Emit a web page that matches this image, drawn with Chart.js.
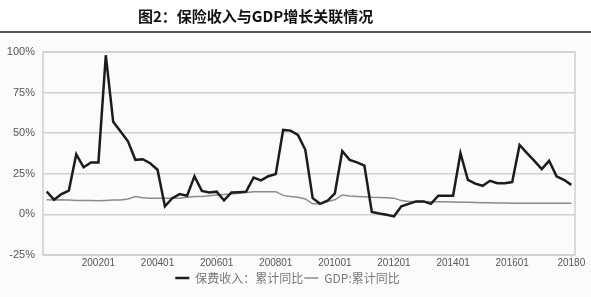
<!DOCTYPE html>
<html>
<head>
<meta charset="utf-8">
<script src="https://cdn.jsdelivr.net/npm/chart.js@4"></script>
<style>
html,body{margin:0;padding:0;background:#fff;}
canvas{display:block;}
</style>
</head>
<body>
<canvas id="c" width="591" height="297"></canvas>
<script>
// categories: quarters 2000Q2 .. 2018Q1
const startYear = 2000, startQuarter = 2, quarterCount = 72;
const categories = [];
for (let k = 0; k < quarterCount; k++) {
  const q = startQuarter - 1 + k;
  categories.push(String(startYear + Math.floor(q / 4)) + '0' + String(q % 4 + 1));
}
// 保费收入：累计同比 (%)
const premiumYoY = [14.1, 9.0, 12.5, 14.7, 37, 29, 32, 32, 98, 57,
  51, 45, 33.6, 34, 31.5, 27.5, 5, 10, 12.5, 11.5,
  23.4, 14.5, 13.5, 14, 8.6, 13.5, 13.7, 14, 22.7, 21,
  23.5, 24.8, 52, 51.6, 49, 39.8, 10, 6.5, 8.4, 13,
  39, 33.6, 32, 30, 1.5, 0.5, -0.2, -1.2, 5, 6.5,
  8, 8, 6.5, 11.5, 11.5, 11.5, 37.7, 21.3, 18.9, 17.6,
  20.7, 19.2, 19.2, 19.9, 42.8, 37.7, 33, 27.9, 33, 23.4,
  21.3, 18.2];
// GDP:累计同比 (%)
const gdpYoY = [9.0, 8.9, 9.0, 8.8, 8.6, 8.6, 8.5, 8.4, 8.6, 8.8,
  8.9, 9.5, 11, 10.2, 10, 10, 10, 10, 10, 10.5,
  11, 11, 11.5, 12, 12.3, 12.6, 13, 13.5, 14, 14,
  14, 14, 11.7, 11, 10.5, 9.5, 6.5, 6.5, 8, 9,
  12, 11.3, 11, 10.8, 10.5, 10.4, 10.2, 10, 8.5, 8,
  8, 8, 7.8, 7.8, 7.8, 7.7, 7.5, 7.5, 7.4, 7.2,
  7.1, 7, 7, 6.9, 6.8, 6.8, 6.8, 6.8, 6.9, 6.9,
  6.9, 6.9];
// x tick labels as shown
const tickCategories = ['200201','200401','200601','200801','201001','201201','201401','201601','201801'];
const tickTexts      = ['200201','200401','200601','200801','201001','201201','201401','201601','20180'];
const yTicks = [-25, 0, 25, 50, 75, 100];
const seriesNames = ['保费收入：累计同比', 'GDP:累计同比'];
const chartTitle = '图2：保险收入与GDP增长关联情况';

const decorPlugin = {
  id: 'decor',
  beforeDraw(chart) {
    const ctx = chart.ctx;
    ctx.save();
    ctx.fillStyle = '#fbfbfb';
    ctx.fillRect(0, 33, chart.width, chart.height - 33);
    ctx.fillStyle = '#ffffff';
    ctx.fillRect(0, 0, chart.width, 31);
    ctx.restore();
  },
  afterDraw(chart) {
    const ctx = chart.ctx;
    ctx.save();
    ctx.fillStyle = '#555555';
    ctx.fillRect(0, 31, chart.width, 2);
    ctx.fillStyle = '#111';
    ctx.font = 'bold 15px "Noto Sans CJK SC"';
    ctx.textBaseline = 'middle';
    ctx.textAlign = 'left';
    ctx.fillText(chartTitle, 138, 16);
    ctx.restore();
  },
  beforeDatasetsDraw(chart) {
    const a = chart.chartArea, ctx = chart.ctx;
    ctx.save();
    ctx.strokeStyle = '#cfcfcf';
    ctx.lineWidth = 1.5;
    ctx.strokeRect(a.left, a.top, a.right - a.left, a.bottom - a.top);
    ctx.restore();
  }
};

new Chart(document.getElementById('c'), {
  type: 'line',
  data: {
    labels: categories,
    datasets: [
      {label: seriesNames[0], data: premiumYoY, borderColor: '#1c1c1c', backgroundColor: '#1c1c1c',
       borderWidth: 2.5, pointRadius: 0, tension: 0, pointStyle: 'line'},
      {label: seriesNames[1], data: gdpYoY, borderColor: '#8c8c8c', backgroundColor: '#8c8c8c',
       borderWidth: 1.5, pointRadius: 0, tension: 0, pointStyle: 'line'}
    ]
  },
  options: {
    responsive: false,
    animation: false,
    layout: {padding: {top: 52, right: 16, left: 0, bottom: 3}},
    plugins: {
      title: {display: false},
      tooltip: {enabled: false},
      legend: {
        position: 'bottom',
        labels: {
          usePointStyle: true, pointStyle: 'line', pointStyleWidth: 14,
          padding: 1,
          color: '#777',
          font: {family: '"Noto Sans CJK SC"', size: 12}
        }
      }
    },
    scales: {
      x: {
        offset: true,
        grid: {drawOnChartArea: false, drawTicks: true, tickLength: 2, color: '#bbb', offset: false},
        border: {display: false},
        ticks: {
          autoSkip: false, maxRotation: 0, minRotation: 0, padding: 0,
          color: '#555', font: {family: '"Liberation Sans"', size: 10},
          callback: function(v, i) {
            const c = categories[i];
            const k = tickCategories.indexOf(c);
            return k >= 0 ? tickTexts[k] : null;
          }
        },
        afterFit: s => { s.height = 16; }
      },
      y: {
        min: -25, max: 100,
        afterBuildTicks: s => { s.ticks = yTicks.map(v => ({value: v})); },
        grid: {color: '#d2d2d2', lineWidth: 1.5, drawTicks: false},
        border: {display: false},
        ticks: {padding: 8, color: '#555', font: {family: '"Liberation Sans"', size: 11},
          callback: v => v + '%'},
        afterFit: s => { s.width = 43; }
      }
    }
  },
  plugins: [decorPlugin]
});
</script>
</body>
</html>
